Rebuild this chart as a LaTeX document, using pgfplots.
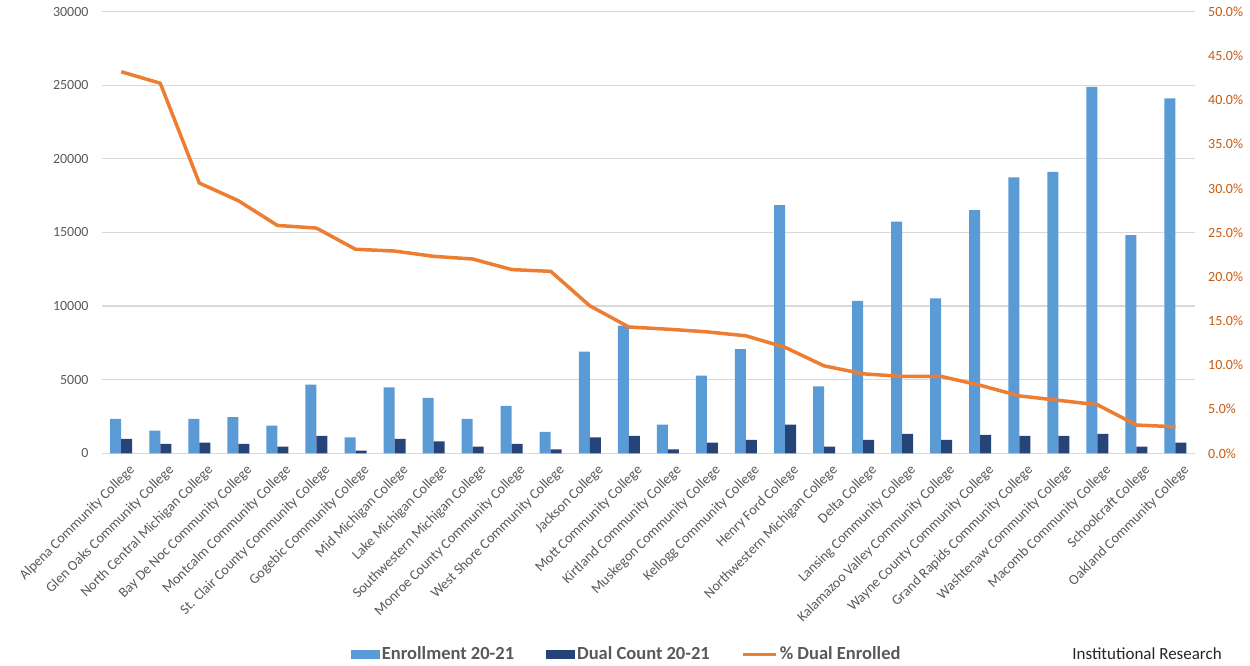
\documentclass[border=0pt]{standalone}
\usepackage{pgfplots}
\pgfplotsset{compat=1.18}
\usepackage{fontspec}
\setmainfont{Carlito}
\definecolor{enr}{HTML}{5B9BD5}
\definecolor{dual}{HTML}{264478}
\definecolor{pct}{HTML}{ED7D31}
\definecolor{pctlab}{HTML}{C65911}
\definecolor{txt}{HTML}{595959}
\definecolor{gridc}{HTML}{D9D9D9}
\begin{document}
\begin{tikzpicture}[x=1pt,y=1pt]
\useasboundingbox (0,0) rectangle (1250,666);
\begin{axis}[
  at={(101.7pt,212.7pt)}, anchor=south west,
  scale only axis, width=1093.3pt, height=441.6pt,
  xmin=-0.5, xmax=27.5, ymin=0, ymax=30000,
  clip=false,
  ybar=0pt, bar width=11pt,
  xtick={0,...,27},
  xticklabels={{Alpena Community College},{Glen Oaks Community College},{North Central Michigan College},{Bay De Noc Community College},{Montcalm Community College},{St. Clair County Community College},{Gogebic Community College},{Mid Michigan College},{Lake Michigan College},{Southwestern Michigan College},{Monroe County Community College},{West Shore Community College},{Jackson College},{Mott Community College},{Kirtland Community College},{Muskegon Community College},{Kellogg Community College},{Henry Ford College},{Northwestern Michigan College},{Delta College},{Lansing Community College},{Kalamazoo Valley Community College},{Wayne County Community College},{Grand Rapids Community College},{Washtenaw Community College},{Macomb Community College},{Schoolcraft College},{Oakland Community College}},
  xticklabel style={rotate=45, anchor=north east, inner sep=0pt, xshift=-2pt, yshift=-12pt, font=\fontsize{14.2}{16}\selectfont, text=txt},
  ytick={0,5000,...,30000},
  scaled y ticks=false,
  yticklabel={\pgfmathprintnumber[fixed,1000 sep={}]{\tick}},
  yticklabel style={font=\fontsize{14}{16}\selectfont, text=txt, anchor=east, inner sep=0pt, xshift=-13pt},
  /pgf/number format/assume math mode=true,
  ymajorgrids, grid style={gridc, line width=1.2pt},
  axis line style={draw=none}, tick style={draw=none},
  major tick length=0pt,
  legend columns=3,
  legend style={at={(axis description cs:0.4802,-0.4545)}, anchor=center, draw=none, fill=none, inner sep=0pt,
    font=\fontsize{18.5}{21}\selectfont\bfseries, text=txt,
    nodes={inner sep=2pt},
    /tikz/every even column/.append style={column sep=30pt}},
]
\addplot[fill=enr, draw=none, legend image code/.code={\fill[enr] (0pt,-4.5pt) rectangle (29pt,4.5pt);}] coordinates {
(0,2340) (1,1545) (2,2340) (3,2455) (4,1886) (5,4660) (6,1090) (7,4477) (8,3773) (9,2340)
(10,3227) (11,1455) (12,6910) (13,8680) (14,1955) (15,5270) (16,7070) (17,16860) (18,4545) (19,10360)
(20,15730) (21,10520) (22,16520) (23,18750) (24,19110) (25,24900) (26,14820) (27,24110)};
\addlegendentry{Enrollment 20-21}
\addplot[fill=dual, draw=none, legend image code/.code={\fill[dual] (0pt,-4.5pt) rectangle (29pt,4.5pt);}] coordinates {
(0,980) (1,636) (2,727) (3,636) (4,455) (5,1180) (6,180) (7,977) (8,818) (9,455)
(10,636) (11,273) (12,1090) (13,1180) (14,273) (15,727) (16,909) (17,1955) (18,455) (19,909)
(20,1318) (21,909) (22,1250) (23,1180) (24,1180) (25,1318) (26,455) (27,727)};
\addlegendentry{Dual Count 20-21}
\addlegendimage{legend image code/.code={\draw[pct, line width=3pt] (0pt,0pt) -- (33pt,0pt);}}
\addlegendentry{\% Dual Enrolled}
\node[anchor=east, font=\fontsize{17}{20}\selectfont, text=black!85, inner sep=0pt] at (axis description cs:1.0247,-0.4545) {Institutional Research};
\end{axis}
\begin{axis}[
  at={(101.7pt,212.7pt)}, anchor=south west,
  scale only axis, width=1093.3pt, height=441.6pt,
  xmin=-0.5, xmax=27.5, ymin=0, ymax=50,
  axis x line=none, axis y line*=right,
  axis line style={draw=none}, tick style={draw=none}, major tick length=0pt,
  ytick={0,5,...,50},
  yticklabel={\pgfmathprintnumber[fixed,fixed zerofill,precision=1]{\tick}\%},
  yticklabel style={font=\fontsize{14}{16}\selectfont, text=pctlab, anchor=west, inner sep=0pt, xshift=13pt},
  /pgf/number format/assume math mode=true,
]
\addplot[pct, line width=3.5pt, line join=round, mark=none] coordinates {
(0,43.2) (1,41.9) (2,30.6) (3,28.6) (4,25.8) (5,25.5) (6,23.1) (7,22.9) (8,22.3) (9,22.0)
(10,20.8) (11,20.6) (12,16.7) (13,14.3) (14,14.05) (15,13.75) (16,13.3) (17,12.0) (18,9.9) (19,9.0)
(20,8.7) (21,8.7) (22,7.7) (23,6.5) (24,6.0) (25,5.5) (26,3.2) (27,3.0)};
\end{axis}
\end{tikzpicture}
\end{document}
